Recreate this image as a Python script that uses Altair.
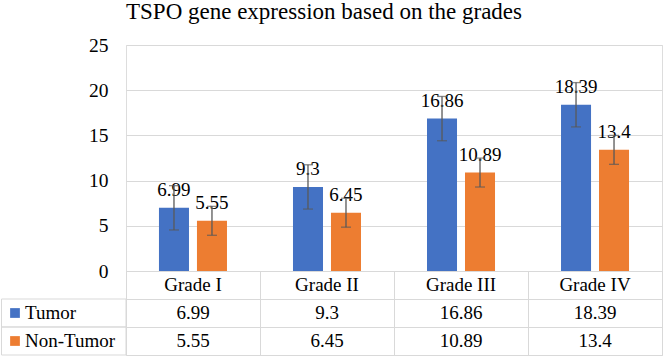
import altair as alt
import pandas as pd

# Values shown in the chart and in its data table
grades = ["Grade I", "Grade II", "Grade III", "Grade IV"]
series = ["Tumor", "Non-Tumor"]
tumor = [6.99, 9.3, 16.86, 18.39]
non_tumor = [5.55, 6.45, 10.89, 13.4]
tumor_err = [2.45, 2.45, 2.45, 2.45]
non_tumor_err = [1.6, 1.6, 1.6, 1.6]
y_ticks = [0, 5, 10, 15, 20, 25]
header_row = "Grade"
chart_title = "TSPO gene expression based on the grades"

FONT = "Liberation Serif"
BLUE, ORANGE = "#4472C4", "#ED7D31"
GRID = "#D9D9D9"
ERR = "#595959"

records = []
for s, vals, errs in [("Tumor", tumor, tumor_err), ("Non-Tumor", non_tumor, non_tumor_err)]:
    for g, v, e in zip(grades, vals, errs):
        records.append({"grade": g, "series": s, "value": v,
                        "lo": v - e, "hi": v + e, "label": f"{v:g}"})
bars_df = pd.DataFrame(records)

cells = [{"grade": g, "row": header_row, "text": g} for g in grades]
cells += [{"grade": r["grade"], "row": r["series"], "text": r["label"]} for r in records]
cells_df = pd.DataFrame(cells)
legend_df = pd.DataFrame({"series": series})

rows_order = [header_row] + series
color = alt.Color("series:N", sort=series,
                  scale=alt.Scale(domain=series, range=[BLUE, ORANGE]), legend=None)

# ---- bar chart -------------------------------------------------------------
x_top = alt.X("grade:N", sort=grades, axis=None,
              scale=alt.Scale(domain=grades, paddingInner=0.4925, paddingOuter=0.246))
x_off = alt.XOffset("series:N", sort=series,
                    scale=alt.Scale(domain=series, paddingInner=0.21, paddingOuter=0))
y_val = alt.Y("value:Q", title=None,
              scale=alt.Scale(domain=[0, 25], nice=False),
              axis=alt.Axis(values=y_ticks, grid=True, gridColor=GRID, domain=False,
                            ticks=False, labelFont=FONT, labelFontSize=19.5,
                            labelColor="black", labelPadding=18,
                            minExtent=125, maxExtent=125))

base = alt.Chart(bars_df)
bars = base.mark_bar().encode(x=x_top, xOffset=x_off, y=y_val, color=color)
labels = base.mark_text(font=FONT, fontSize=19, color="black", dy=-12,
                        baseline="alphabetic").encode(
    x=x_top, xOffset=x_off, y="value:Q", text="label:N")
err_rule = base.mark_rule(color=ERR, strokeWidth=1.3).encode(
    x=x_top, xOffset=x_off, y="lo:Q", y2="hi:Q")
cap_lo = base.mark_tick(color=ERR, thickness=1.3, size=10).encode(
    x=x_top, xOffset=x_off, y="lo:Q")
cap_hi = base.mark_tick(color=ERR, thickness=1.3, size=10).encode(
    x=x_top, xOffset=x_off, y="hi:Q")

top = alt.layer(bars, labels, err_rule, cap_lo, cap_hi).properties(
    width=536, height=226,
    title=alt.TitleParams(chart_title, anchor="start", frame="group", font=FONT,
                          fontSize=23, fontWeight="normal", color="black", offset=11),
)

# ---- data table ------------------------------------------------------------
x_tab = alt.X("grade:N", sort=grades, title=None,
              scale=alt.Scale(domain=grades, paddingInner=0, paddingOuter=0),
              axis=alt.Axis(labels=False, ticks=False, domain=False, grid=True,
                            gridColor=GRID, tickBand="extent"))
y_tab = alt.Y("row:N", sort=rows_order, title=None,
              scale=alt.Scale(domain=rows_order, paddingInner=0, paddingOuter=0),
              axis=alt.Axis(labels=False, ticks=False, domain=False, grid=True,
                            gridColor=GRID, tickBand="extent",
                            minExtent=125, maxExtent=125))

cell_text = alt.Chart(cells_df).mark_text(
    font=FONT, fontSize=19, color="black", baseline="middle").encode(
    x=x_tab, y=y_tab, text="text:N")
legend_cells = alt.Chart(legend_df).mark_rect(fill="transparent", stroke=GRID).encode(
    x=alt.value(-124.5), x2=alt.value(0),
    y=alt.Y("row:N", sort=rows_order, scale=alt.Scale(domain=rows_order)),
).transform_calculate(row="datum.series")
legend_keys = alt.Chart(legend_df).mark_point(shape="square", filled=True, size=95,
                                              opacity=1).encode(
    x=alt.value(-111),
    y=alt.Y("row:N", sort=rows_order, scale=alt.Scale(domain=rows_order)),
    color=color,
).transform_calculate(row="datum.series")
legend_text = alt.Chart(legend_df).mark_text(
    font=FONT, fontSize=19, color="black", align="left", baseline="middle").encode(
    x=alt.value(-101),
    y=alt.Y("row:N", sort=rows_order, scale=alt.Scale(domain=rows_order)),
    text="series:N",
).transform_calculate(row="datum.series")

table = alt.layer(cell_text, legend_cells, legend_keys, legend_text).properties(
    width=536, height=84)

chart = alt.vconcat(top, table, spacing=0, bounds="flush").properties(
    padding={"left": 0, "top": 0, "right": 0, "bottom": 0}
).configure_view(strokeWidth=0).configure(background="white")

chart.save("out.html", embed_options={"renderer": "svg", "actions": False})
